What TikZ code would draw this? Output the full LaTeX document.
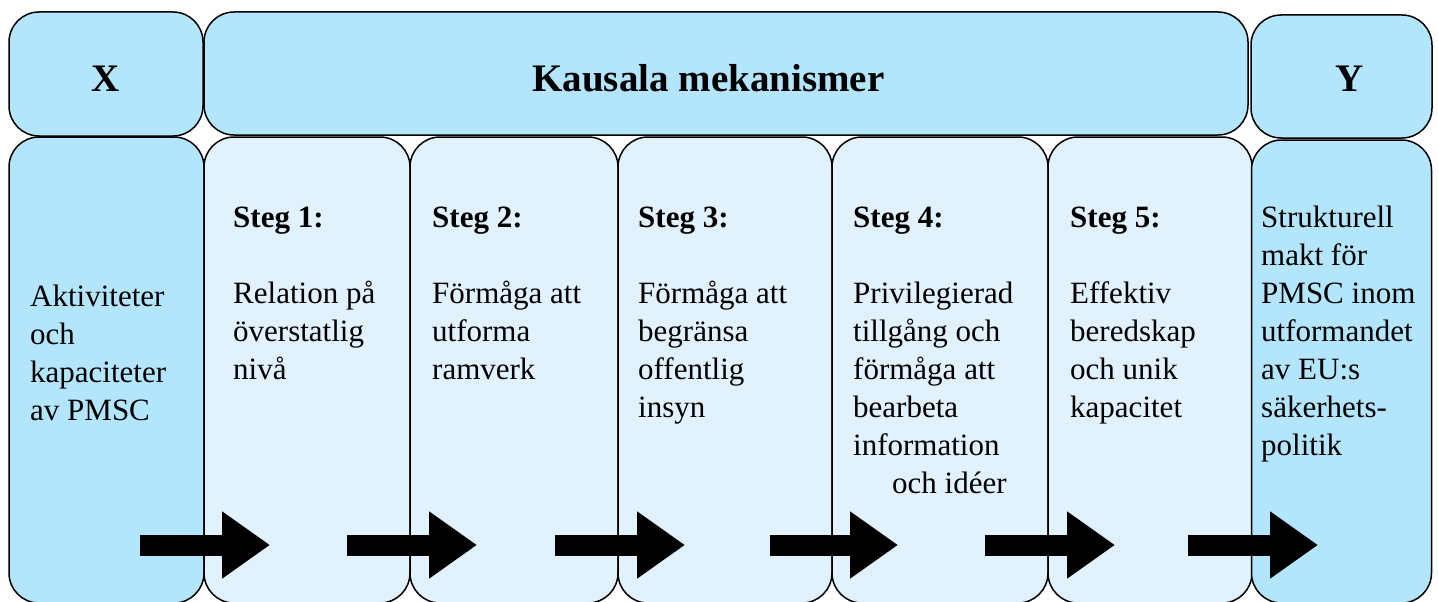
\documentclass[tikz,border=0pt]{standalone}
\usepackage{fontspec}
\setmainfont{Liberation Serif}
\usetikzlibrary{arrows.meta}
\definecolor{hdr}{RGB}{179,229,252}
\definecolor{stp}{RGB}{225,241,254}
\begin{document}
\begin{tikzpicture}[x=1pt,y=-1pt,
  box/.style={draw=black, line width=1.5pt, rounded corners=30pt, inner sep=0pt, outer sep=0pt},
  hbox/.style={box, fill=hdr},
  sbox/.style={box, fill=stp},
  title/.style={font={\fontsize{39}{44}\selectfont\bfseries}, inner sep=0pt, anchor=base},
  body/.style={font={\fontsize{31}{38}\selectfont}, inner sep=0pt, anchor=north west, align=left},
  bigarrow/.style={line width=21pt, -{Triangle[length=48pt,width=64pt]}}]
\useasboundingbox (0,0) rectangle (1438,602);
\begin{scope}
\clip (0,0) rectangle (1438,602);
% header row
\node[hbox, minimum width=194pt, minimum height=124pt] (hx) at (106,74) {};
\node[hbox, minimum width=1044pt, minimum height=123pt] (hk) at (726,73.5) {};
\node[hbox, minimum width=181pt, minimum height=123pt] (hy) at (1341.5,76.5) {};
% bottom row
\node[hbox, minimum width=195pt, minimum height=466pt] (cx) at (106.5,370) {};
\node[sbox, minimum width=206pt, minimum height=466pt] (c1) at (307,370) {};
\node[sbox, minimum width=208pt, minimum height=466pt] (c2) at (514,370) {};
\node[sbox, minimum width=214pt, minimum height=466pt] (c3) at (725,370) {};
\node[sbox, minimum width=216pt, minimum height=466pt] (c4) at (940,370) {};
\node[sbox, minimum width=204pt, minimum height=466pt] (c5) at (1150,370) {};
\node[hbox, minimum width=180pt, minimum height=463pt] (cy) at (1341.5,371.5) {};
\end{scope}
% titles
\node[title] (tx) at (106,92) {X};
\node[title] (tk) at (708.5,92) {Kausala mekanismer};
\node[title] (ty) at (1350,92) {Y};
% body texts
\node[body] (bx) at (30,279.4) {\strut Aktiviteter\\och\\kapaciteter\\av PMSC};
\node[body] (b1) at (233,200.4) {\strut\textbf{Steg 1:}\\[38pt]Relation på\\överstatlig\\nivå};
\node[body] (b2) at (432,200.4) {\strut\textbf{Steg 2:}\\[38pt]Förmåga att\\utforma\\ramverk};
\node[body] (b3) at (638,200.4) {\strut\textbf{Steg 3:}\\[38pt]Förmåga att\\begränsa\\offentlig\\insyn};
\node[body] (b4) at (853,200.4) {\strut\textbf{Steg 4:}\\[38pt]Privilegierad\\tillgång och\\förmåga att\\bearbeta\\information\\\hspace*{39pt}och idéer};
\node[body] (b5) at (1070,200.4) {\strut\textbf{Steg 5:}\\[38pt]Effektiv\\beredskap\\och unik\\kapacitet};
\node[body] (by) at (1261,200.4) {\strut Strukturell\\makt för\\PMSC inom\\utformandet\\av EU:s\\säkerhets-\\politik};
% arrows
\coordinate (a1s) at (140,545); \coordinate (a1e) at (270,545);
\coordinate (a2s) at (347,545); \coordinate (a2e) at (477,545);
\coordinate (a3s) at (555,545); \coordinate (a3e) at (685,545);
\coordinate (a4s) at (770,545); \coordinate (a4e) at (898,545);
\coordinate (a5s) at (985,545); \coordinate (a5e) at (1115,545);
\coordinate (a6s) at (1188,545); \coordinate (a6e) at (1318,545);
\foreach \i in {1,...,6} \draw[bigarrow] (a\i s) -- (a\i e);
\end{tikzpicture}
\end{document}
